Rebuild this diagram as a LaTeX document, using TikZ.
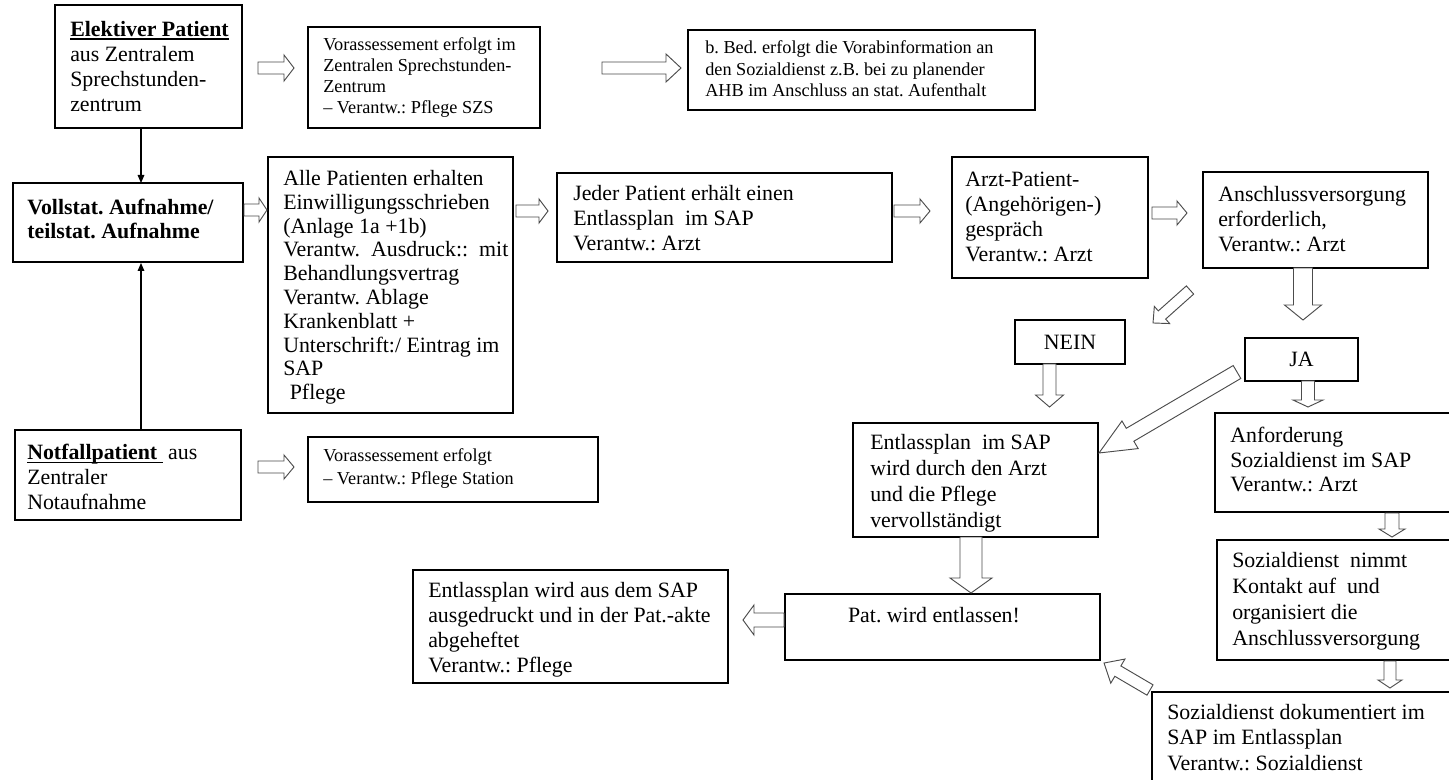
\documentclass[tikz,border=0pt]{standalone}
\usepackage{fontspec}
\setmainfont{Liberation Serif}
\usetikzlibrary{calc,arrows.meta}
\frenchspacing

\tikzset{
  box/.style={draw=black, line width=0.9pt, anchor=north west, inner sep=0pt, outer sep=0pt},
  big/.style={anchor=north west, inner sep=0pt, align=left, font=\frenchspacing\fontsize{16.4}{#1}\selectfont},
  small/.style={anchor=north west, inner sep=0pt, align=left, font=\frenchspacing\fontsize{13.7}{#1}\selectfont},
  hollow/.style={draw=black!70, line width=0.7pt, fill=white, line join=miter},
  thinarrow/.style={line width=0.8pt, -{Triangle[length=6pt,width=5pt]}},
}

\newcommand\mkbox[5]{\node[box, minimum width={(#4-#2)*0.75pt}, minimum height={(#5-#3)*0.75pt}] (#1) at (#2,#3) {};}

% block arrow: start, end, shaft half width, head half width, head length (px)
\newcommand\barr[5]{%
  \path let \p1=(#1), \p2=(#2), \n1={atan2(\y2-\y1,\x2-\x1)}, \n2={veclen(\x2-\x1,\y2-\y1)} in
    \pgfextra{\xdef\bA{\n1}\xdef\bL{\n2}\xdef\bX{\x1}\xdef\bY{\y1}};
  \begin{scope}[shift={(\bX,\bY)}, rotate=\bA, x=1pt, y=1pt]
    \draw[hollow] (0,{0.75*#3}) -- ({\bL-0.75*#5},{0.75*#3}) -- ({\bL-0.75*#5},{0.75*#4})
      -- (\bL,0) -- ({\bL-0.75*#5},{-0.75*#4}) -- ({\bL-0.75*#5},{-0.75*#3}) -- (0,{-0.75*#3}) -- cycle;
  \end{scope}}

\newcommand\ulbold[1]{\setbox0\hbox{\textbf{#1}}\rlap{\rule[-0.16em]{\wd0}{1.1pt}}\box0}

\begin{document}
\begin{tikzpicture}[x=0.75pt, y=-0.75pt]
\useasboundingbox (0,0) rectangle (1449,780);
\fill[white] (0,0) rectangle (1449,780);
\clip (0,0) rectangle (1449,780);

% boxes
\mkbox{b1}{55}{5}{242}{128}
\mkbox{b2}{308}{27}{540}{128}
\mkbox{b3}{688}{30}{1035}{110}
\mkbox{b4}{13}{183}{243}{262}
\mkbox{b5}{268}{157}{513}{413}
\mkbox{b6}{557}{173}{892}{262}
\mkbox{b7}{952}{157}{1148}{278}
\mkbox{b8}{1203}{172}{1428}{268}
\mkbox{b9}{1015}{320}{1125}{364}
\mkbox{b10}{1245}{338}{1358}{381}
\mkbox{b11}{853}{423}{1098}{537}
\mkbox{b12}{1215}{413}{1452}{512}
\mkbox{b13}{1217}{540}{1452}{660}
\mkbox{b14}{15}{430}{241}{520}
\mkbox{b15}{308}{437}{598}{502}
\mkbox{b16}{785}{594}{1100}{660}
\mkbox{b17}{413}{570}{728}{683}
\mkbox{b18}{1152}{692}{1452}{790}

% texts
\node[big=18.75pt] (t1) at (70,21) {\ulbold{Elektiver Patient}\\aus Zentralem\\Sprechstunden-\\zentrum};
\node[small=15.75pt] (t2) at (323,37) {Vorassessement erfolgt im\\Zentralen Sprechstunden-\\Zentrum\\– Verantw.: Pflege SZS};
\node[small=16.1pt] (t3) at (705,40.5) {b. Bed. erfolgt die Vorabinformation an\\den Sozialdienst z.B. bei zu planender\\AHB im Anschluss an stat. Aufenthalt};
\node[big=18pt] (t4) at (27,199) {\textbf{Vollstat. Aufnahme/}\\\textbf{teilstat. Aufnahme}};
\node[big=17.85pt] (t5) at (283,170) {Alle Patienten erhalten\\Einwilligungsschrieben\\(Anlage 1a +1b)\\Verantw.\ \ Ausdruck::\ \ mit\\Behandlungsvertrag\\Verantw. Ablage\\Krankenblatt +\\Unterschrift:/ Eintrag im\\SAP\\\hspace*{0.3em}Pflege};
\node[big=18.75pt] (t6) at (573,185) {Jeder Patient erhält einen\\Entlassplan\ \ im SAP\\Verantw.: Arzt};
\node[big=18.75pt] (t7) at (965,172) {Arzt-Patient-\\(Angehörigen-)\\gespräch\\Verantw.: Arzt};
\node[big=18.75pt] (t8) at (1218,186) {Anschlussversorgung\\erforderlich,\\Verantw.: Arzt};
\node[big=18pt, anchor=center] (t9) at (b9.center) {NEIN};
\node[big=18pt, anchor=center] (t10) at (b10.center) {JA};
\node[big=19.5pt] (t11) at (870,434) {Entlassplan\ \ im SAP\\wird durch den Arzt\\und die Pflege\\vervollständigt};
\node[big=18.4pt] (t12) at (1230,427) {Anforderung\\Sozialdienst im SAP\\Verantw.: Arzt};
\node[big=19.5pt] (t13) at (1232,552) {Sozialdienst\ \ nimmt\\Kontakt auf\ \ und\\organisiert die\\Anschlussversorgung};
\node[big=18.75pt] (t14) at (27,444) {\ulbold{Notfallpatient\ }\ aus\\Zentraler\\Notaufnahme};
\node[small=17.25pt] (t15) at (323,448.5) {Vorassessement erfolgt\\– Verantw.: Pflege Station};
\node[big=18pt, anchor=north] (t16) at (934,607) {Pat. wird entlassen!};
\node[big=18.75pt] (t17) at (428,582) {Entlassplan wird aus dem SAP\\ausgedruckt und in der Pat.-akte\\abgeheftet\\Verantw.: Pflege};
\node[big=19.1pt] (t18) at (1167,704) {Sozialdienst dokumentiert im\\SAP im Entlassplan\\Verantw.: Sozialdienst};

% thin arrows
\draw[thinarrow] ($(b1.south)+(-7.5,0)$) -- ($(b4.north)+(13,0)$);
\draw[thinarrow] ($(b14.north)+(13,0)$) -- ($(b4.south)+(13,1)$);

% block arrows
\barr{$(b1.east)+(16,1.5)$}{$(b2.west)+(-14,-9.5)$}{6}{13}{10}
\barr{$(b2.east)+(62,-9.5)$}{$(b3.west)+(-7,-2)$}{6}{14}{15}
\barr{$(b4.east)+(1,-12.5)$}{$(b5.west)+(-1,-75)$}{6}{12}{8}
\barr{$(b5.east)+(3,-74)$}{$(b6.west)+(-9,-6.5)$}{6}{12}{9}
\barr{$(b6.east)+(2,-6.5)$}{$(b7.west)+(-22,-6.5)$}{6}{12}{10}
\barr{$(b7.east)+(4,-4.5)$}{$(b8.west)+(-16,-7)$}{6}{12}{10}
\barr{$(b8.south)+(-12.5,0)$}{$(b10.north)+(1.5,-18)$}{9.5}{18.5}{15}
\barr{$(b8.south west)+(-13,22)$}{$(b9.north east)+(28,3)$}{5.5}{11.5}{12}
\barr{$(b9.south)+(-20.5,0)$}{$(b11.north)+(74,-16)$}{6.5}{14}{12}
\barr{$(b10.south west)+(-8,-9)$}{$(b11.east)+(1,-27)$}{7.5}{16}{36}
\barr{$(b10.south)+(6.5,0)$}{$(b12.north)+(-25.5,-6)$}{6.5}{15}{7}
\barr{$(b11.south)+(-4.5,0)$}{$(b16.north)+(28.5,-1)$}{11}{21}{15}
\barr{$(b12.south)+(58.5,1)$}{$(b13.north)+(57.5,-3)$}{7}{13}{8}
\barr{$(b13.south)+(55.5,1)$}{$(b18.north)+(88,-4)$}{6}{12}{8}
\barr{$(b18.north west)+(-2,-2)$}{$(b16.south east)+(4,3)$}{6}{14}{16}
\barr{$(b16.west)+(-1,-7)$}{$(b17.east)+(15,-6.5)$}{7}{15}{11}
\barr{$(b14.east)+(17,-8)$}{$(b15.west)+(-14,-2.5)$}{6}{12}{10}
\end{tikzpicture}
\end{document}
